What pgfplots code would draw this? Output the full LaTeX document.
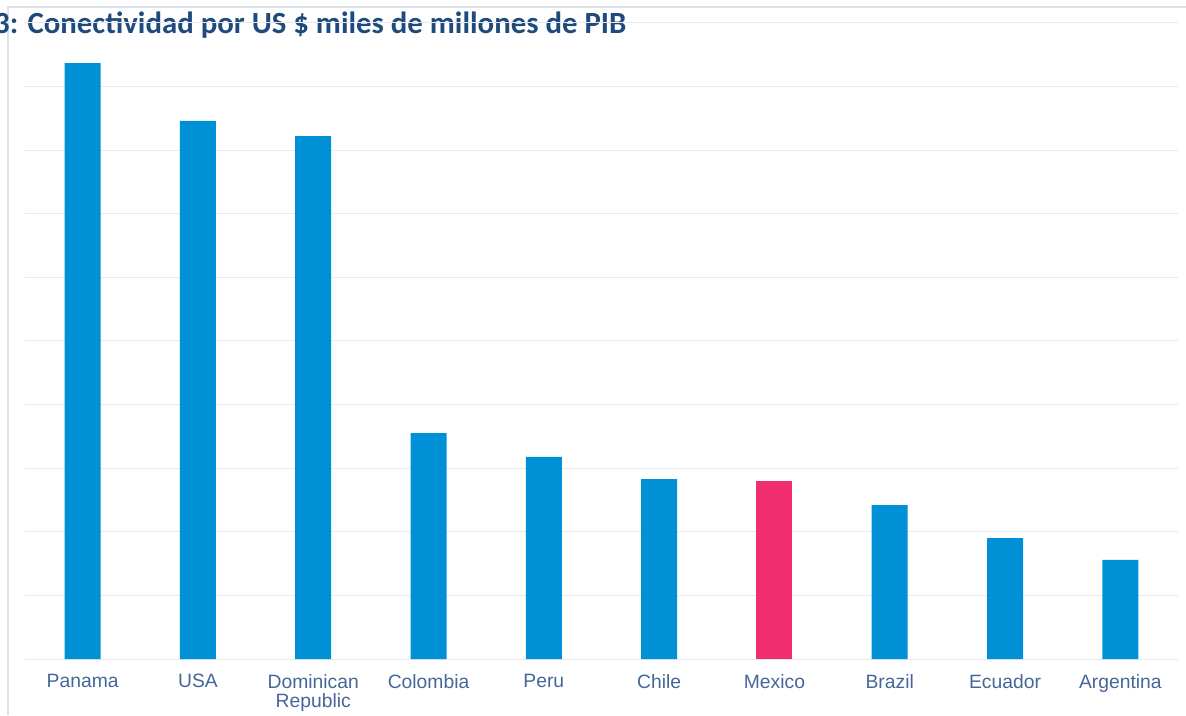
\documentclass[border=0pt]{standalone}
\usepackage{pgfplots}
\pgfplotsset{compat=1.18}
\usepackage{fontspec}
\setmainfont{Liberation Sans}
\newfontfamily\titlefont{Carlito}
\definecolor{barblue}{HTML}{0090D6}
\definecolor{barpink}{HTML}{EF2D6F}
\definecolor{gridc}{HTML}{E6E9F0}
\definecolor{framec}{HTML}{DDE2EA}
\definecolor{labc}{HTML}{46669A}
\definecolor{titlec}{HTML}{1F4A7C}
\begin{document}
\begin{tikzpicture}[x=1pt,y=1pt]
\useasboundingbox (0,0) rectangle (1186,715);
\draw[framec, line width=1.5pt] (8,0) -- (8,708) -- (1186,708);
\node[anchor=base west, inner sep=0pt, font=\titlefont\bfseries\fontsize{30.8}{36}\selectfont, text=titlec] at (-6,681) {3: Conectividad por US \$ miles de millones de PIB};
\begin{axis}[
  at={(25pt,56pt)}, anchor=south west,
  width=1153pt, height=636pt, scale only axis,
  xmin=-0.5, xmax=9.5, ymin=0, ymax=10,
  axis line style={draw=none},
  major tick length=0pt,
  ytick={0,...,10}, yticklabels={},
  ymajorgrids, grid style={gridc, line width=1pt},
  xtick={0,...,9},
  xticklabels={Panama,USA,Dominican\\Republic,Colombia,Peru,Chile,Mexico,Brazil,Ecuador,Argentina},
  xticklabel style={align=center, text=labc, font=\fontsize{19.3}{19.5}\selectfont, inner sep=0pt, yshift=-15pt},
  ybar, bar width=36pt, bar shift=0pt,
  clip=false,
]
\addplot[fill=barblue, draw=none] coordinates {(0,9.37) (1,8.46) (2,8.22) (3,3.55) (4,3.18) (5,2.83) (7,2.42) (8,1.90) (9,1.56)};
\addplot[fill=barpink, draw=none] coordinates {(6,2.80)};
\end{axis}
\end{tikzpicture}
\end{document}
